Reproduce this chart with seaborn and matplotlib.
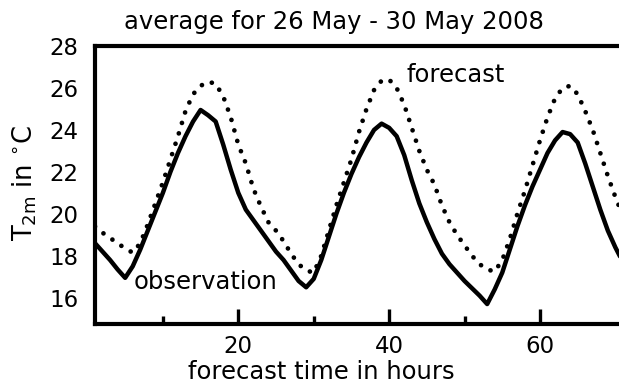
import matplotlib
matplotlib.use("Agg")
import matplotlib.pyplot as plt
import seaborn as sns
import pandas as pd

hours = list(range(1, 73))
observation = [18.6, 18.2, 17.8, 17.35, 16.95, 17.5, 18.3, 19.2, 20.1, 21.0,
               22.0, 22.9, 23.7, 24.4, 24.95, 24.7, 24.4, 23.3, 22.1, 21.0,
               20.2, 19.7, 19.2, 18.7, 18.2, 17.8, 17.3, 16.8, 16.5, 16.9,
               17.8, 18.9, 20.0, 21.0, 21.9, 22.7, 23.4, 24.0, 24.3, 24.1,
               23.7, 22.8, 21.6, 20.5, 19.6, 18.8, 18.1, 17.6, 17.2, 16.8,
               16.45, 16.1, 15.7, 16.4, 17.2, 18.3, 19.4, 20.4, 21.3, 22.1,
               22.9, 23.5, 23.9, 23.8, 23.4, 22.4, 21.3, 20.2, 19.2, 18.4,
               17.7, 17.2]
forecast = [19.4, 19.1, 18.85, 18.6, 18.35, 18.15, 18.6, 19.5, 20.5, 21.5,
            22.6, 23.7, 24.9, 25.7, 26.1, 26.3, 26.2, 25.6, 24.6, 23.3,
            22.4, 21.2, 20.35, 19.6, 19.2, 18.7, 18.1, 17.6, 17.3, 17.2,
            18.0, 19.2, 20.4, 21.5, 22.6, 23.9, 25.0, 25.9, 26.35, 26.4,
            26.0, 25.2, 24.1, 23.0, 22.1, 21.4, 20.4, 19.6, 19.0, 18.5,
            18.0, 17.6, 17.35, 17.25, 17.8, 18.8, 20.0, 21.1, 22.3, 23.5,
            24.6, 25.5, 26.0, 26.1, 25.7, 24.9, 24.0, 22.9, 21.8, 20.8,
            19.9, 19.2]
yticks = [16, 18, 20, 22, 24, 26, 28]
xmajor = [20, 40, 60]
xminor = [10, 30, 50]

df = pd.DataFrame({"hour": hours, "observation": observation, "forecast": forecast})

sns.set_style("white")
plt.rcParams["font.family"] = ["DejaVu Sans"]
plt.rcParams["mathtext.fontset"] = "dejavusans"
plt.rcParams["text.color"] = "black"
plt.rcParams["axes.labelcolor"] = "black"
plt.rcParams["xtick.color"] = "black"
plt.rcParams["ytick.color"] = "black"

fig = plt.figure(figsize=(6.19, 3.85), dpi=100)
ax = fig.add_axes([95 / 619, (385 - 324) / 385, 1 - 95 / 619 + 0.01, (324 - 46) / 385])

sns.lineplot(data=df, x="hour", y="forecast", ax=ax, color="black", lw=3.4,
             linestyle=(0, (0.01, 2.3)), dash_capstyle="round")
sns.lineplot(data=df, x="hour", y="observation", ax=ax, color="black", lw=3.2)

ax.set_xlim(1, 71.3)
ax.set_ylim(14.75, 28)
ax.set_yticks(yticks)
ax.set_xticks(xmajor)
ax.set_xticks(xminor, minor=True)
ax.tick_params(axis="y", length=0, pad=12, labelsize=16.5, colors="black")
ax.tick_params(axis="x", which="major", direction="in", length=10.5, width=2.4,
               pad=8, labelsize=16.5, bottom=True, colors="black")
ax.tick_params(axis="x", which="minor", direction="in", length=6, width=2.4,
               bottom=True, colors="black")
for s in ["left", "top", "bottom"]:
    ax.spines[s].set_linewidth(3)
    ax.spines[s].set_color("black")
ax.spines["right"].set_visible(False)

ax.set_xlabel("")
ax.set_ylabel("")
fig.text(321 / 619, 1 - 372 / 385, "forecast time in hours",
         ha="center", va="center", fontsize=17.5)
fig.text(25 / 619, 1 - 183 / 385, r"T$_{\rm 2m}$ in $^{\circ}$C",
         ha="center", va="center", rotation=90, fontsize=18.5)
fig.text(334 / 619, 1 - 22 / 385, "average for 26 May - 30 May 2008",
         ha="center", va="center", fontsize=17.5)
ax.text(42.3, 26.6, "forecast", fontsize=17.5, ha="left", va="center")
ax.text(6.1, 16.75, "observation", fontsize=17.5, ha="left", va="center")

fig.savefig("out.png", dpi=100)
